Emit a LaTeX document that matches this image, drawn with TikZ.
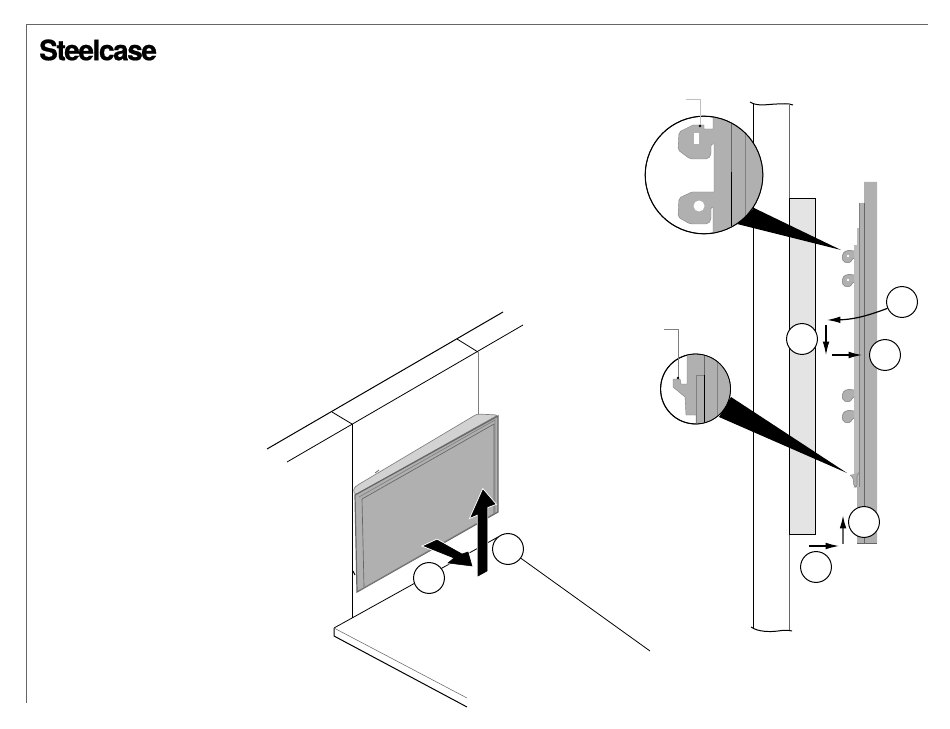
\documentclass[tikz,border=0pt]{standalone}
\usepackage{fontspec}
\newfontfamily\logofont[LetterSpace=-5,BoldFeatures={FakeBold=0.7}]{TeX Gyre Heros}
\usetikzlibrary{arrows.meta}
\usetikzlibrary{positioning}
\definecolor{steelgray}{HTML}{B0B0B0}
\definecolor{edgegray}{HTML}{BCBCBC}
\definecolor{framegray}{HTML}{666666}
\definecolor{panelgray}{HTML}{E4E4E4}
\definecolor{topgray}{HTML}{D2D2D2}
\tikzset{
    callout/.style={circle, draw, fill=white, line width=0.75pt, minimum size=31*0.7484pt, inner sep=0pt},
    thinline/.style={line width=0.75pt},
    leader/.style={line width=0.5pt, gray},
    bigarrow/.style={fill=black, preaction={draw=white, line width=1.8pt}, line join=miter},
    smallarrow/.style={-{Latex[length=10pt,width=5pt,black]}, line width=0.9pt},
    hookpart/.style={fill=steelgray, draw=gray, line width=0.4pt, rounded corners=1.5pt}
}

\begin{document}
\begin{tikzpicture}[x=0.0264cm, y=-0.0264cm]
  \useasboundingbox (0,0) rectangle (950,729);
  \draw[framegray, line width=0.6pt] (26,703) -- (26,24) -- (928,24);
  \node[anchor=west, inner sep=0pt, font=\logofont\bfseries\fontsize{21}{21}\selectfont] (logo) at (39,50) {Steelcase};

  \draw[thinline] (267,449) -- (503,312);
  \draw[line width=0.6pt] (287,462) -- (523,325);
  \draw[line width=0.6pt] (332,412) -- (352,424);
  \draw[line width=0.6pt] (457,339) -- (478,352);
  \draw[line width=0.6pt] (352,424) -- (352,618);
  \draw[gray, thinline] (478,352) -- (478,415);
  \draw[line width=0.6pt] (334,628) -- (498,537);
  \draw[thinline] (334,628) -- (334,636) -- (467,707);
  \draw[framegray, line width=0.4pt] (334,628) -- (467,698);

  \draw[fill=topgray, draw=gray, line width=0.5pt, rounded corners=2pt] (353,490) -- (356,486) -- (477,414) -- (498,415) -- (355,495) -- cycle;
  \draw[fill=steelgray, draw=framegray, line width=0.9pt] (355,495) -- (498,416) -- (498,512) -- (357,592) -- cycle;
  \draw[gray, line width=0.5pt] (359,497) -- (495,420) -- (495,513) -- (360,590);
  \draw[framegray, line width=0.5pt] (362,499) -- (494,424) -- (494,513);
  \draw[framegray, line width=0.5pt] (362,499) -- (364,587);
  \draw[framegray, line width=0.6pt] (375,473) -- (379,470);
  \draw[black, line width=0.8pt] (353,571) -- (355,575);

  \draw[bigarrow] (424,546) -- (437,540) -- (462,554) -- (468,552) -- (472,566) -- (448,563) -- (454,558) -- cycle;
  \draw[bigarrow] (478,576) -- (487,571) -- (487,507) -- (495,504) -- (483,490) -- (471,517) -- (478,514) -- cycle;

  \node[callout] (liftcall) at (429,578) {};
  \node[callout] (pullcall) at (508,549) {};
  \coordinate (pullend) at (650,651);
  \draw[line width=0.6pt] (pullcall) -- (pullend);

  \draw[thinline] (750,102) .. controls (757,107) and (770,104) .. (777,104) .. controls (782,104) and (788,103) .. (793,105);
  \draw[thinline] (753.7,103) -- (753.7,628);
  \draw[framegray, thinline] (789,104) -- (789,630);
  \draw[thinline] (751,627) .. controls (758,632) and (770,632) .. (778,631) .. controls (784,630) and (788,630) .. (792,631);
  \draw[fill=panelgray, thinline] (789,199) rectangle (815.5,534);

  \fill[edgegray] (854,245) rectangle (860,487);
  \fill[edgegray] (857,228) rectangle (860,245);
  \fill[steelgray] (864,182) -- (877,182) -- (877,543) -- (857,543) -- (857,487) -- (860,487) -- (860,203) -- (864,203) -- cycle;
  \draw[framegray, line width=0.5pt] (864,203) -- (864,543);
  \draw[gray, line width=0.4pt] (859.5,203) -- (859.5,487);
  \draw[framegray, line width=0.6pt] (857,543) -- (877,543);
  \foreach \hooky/\hookh in {250/1,274/1,389/0,410/0} {
    \filldraw[hookpart, shift={(0,\hooky)}] (854,1) -- (847,0) -- (842,4) -- (843,12) -- (851,13) -- (852,8) -- (854,8);
    \ifnum\hookh=1 \fill[white, shift={(0,\hooky)}] (848,6) circle (1.3); \fi
  }
  \filldraw[hookpart] (850,475) -- (853,477) -- (854,487) -- (857,487) -- (857,474) -- (860,472);

  \fill (754,208) -- (841,250) -- (737,224) -- cycle;
  \fill (731,397) -- (847,473) -- (719,417) -- cycle;

  \node[circle, draw, fill=white, thinline, minimum size=118*0.7484pt, inner sep=0pt] (zoomtop) at (704,175) {};
  \begin{scope}
    \clip (704,175) circle (58.5);
    \filldraw[fill=steelgray, draw=gray, line width=0.3pt] (713,110) -- (713,129) -- (704,129) -- (704,125) -- (693,125) [rounded corners=1.5pt] -- (679,132) -- (678,150) -- (690,159) -- (708,159) -- (711,155) -- (711,144) [sharp corners] -- (714,144) -- (714,192) -- (692,192) [rounded corners=1.5pt] -- (679,198) -- (678,217) -- (690,224) -- (708,224) -- (711,220) -- (711,207) [sharp corners] -- (713,207) -- (713,240) -- (770,240) -- (770,110) -- cycle;
    \fill[white] (694,133) rectangle (699,144);
    \fill[white] (699,206) circle (5.5);
    \draw[framegray, line width=0.6pt] (731,110) -- (731,240);
    \draw[black, line width=0.6pt] (731,172) -- (731,226);
    \draw[gray, line width=0.6pt] (745,110) -- (745,240);
  \end{scope}
  \draw[line width=0.6pt] (704,175) circle (58.7);
  \coordinate (topdot) at (700,126);
  \coordinate (toptab) at (686,99);
  \draw[gray!50, line width=0.5pt] (toptab) -- (700,99) -- (topdot);
  \fill (topdot) circle (1.3);

  \node[circle, draw, fill=white, thinline, minimum size=70*0.7484pt, inner sep=0pt] (zoombot) at (695.5,389) {};
  \begin{scope}
    \clip (695.5,389) circle (34.7);
    \filldraw[fill=steelgray, draw=gray, line width=0.3pt] (687,350) -- (687,384) -- (681,384) -- (680,379) -- (673,379) -- (673,387) -- (685,397) -- (686,415) -- (696,415) -- (696,430) -- (735,430) -- (735,350) -- cycle;
    \draw[gray, line width=0.5pt] (696,430) -- (696,375) -- (704,375);
    \draw[framegray, line width=0.5pt] (704,350) -- (704,430);
    \draw[black, line width=0.6pt] (704,375) -- (704,424);
    \draw[gray, line width=0.6pt] (717,350) -- (717,430);
  \end{scope}
  \draw[line width=0.6pt] (695.5,389) circle (35);
  \coordinate (botdot) at (678,378);
  \coordinate (bottab) at (664,329);
  \draw[leader] (bottab) -- (678,329) -- (botdot);
  \fill (botdot) circle (1.3);

  \node[callout] (swingcall) at (902,302) {};
  \node[callout] (dropcall) at (802,339) {};
  \node[callout] (pushcall) at (885,355) {};
  \node[callout] (raisecall) at (864,522) {};
  \node[callout] (slidecall) at (816,567) {};

  \coordinate (swingend) at (827,320);
  \coordinate (dropstart) at (826,325);
  \coordinate (dropend) at (826,355);
  \coordinate (pushstart) at (832,355);
  \coordinate (pushend) at (862,355);
  \coordinate (slidestart) at (809,546);
  \coordinate (slideend) at (839,546);
  \coordinate (raisestart) at (843,544);
  \coordinate (raiseend) at (843,515);
  \draw[smallarrow] (swingcall) to[bend left=10] (swingend);
  \draw[smallarrow] (dropstart) -- (dropend);
  \draw[smallarrow] (pushstart) -- (pushend);
  \draw[smallarrow] (slidestart) -- (slideend);
  \draw[smallarrow, framegray, line width=1.3pt] (raisestart) -- (raiseend);
\end{tikzpicture}
\end{document}
